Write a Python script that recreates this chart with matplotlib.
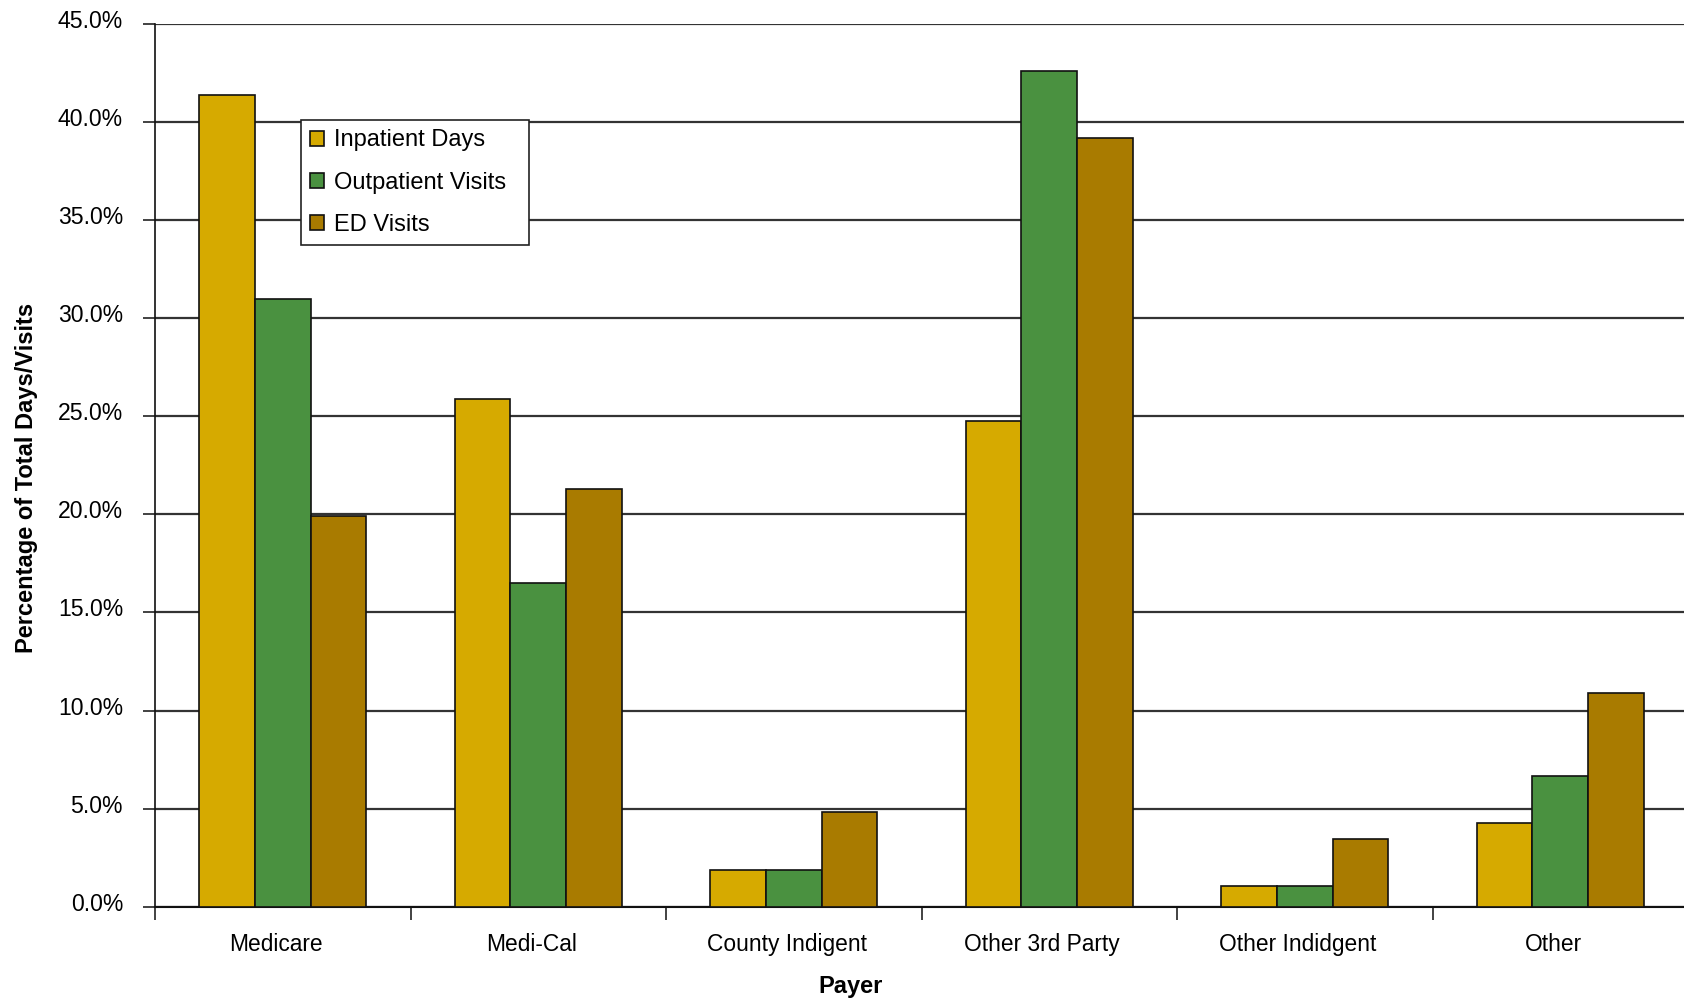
import matplotlib
matplotlib.use("Agg")
import matplotlib.pyplot as plt
import matplotlib.transforms as mtransforms
from matplotlib.patches import Rectangle
import numpy as np
from matplotlib.ticker import FuncFormatter, FixedLocator

plt.rcParams['font.family'] = ['Liberation Sans', 'DejaVu Sans']

categories = ["Medicare", "Medi-Cal", "County Indigent", "Other 3rd Party", "Other Indidgent", "Other"]
series_names = ["Inpatient Days", "Outpatient Visits", "ED Visits"]
inpatient = [41.4, 25.9, 1.85, 24.75, 1.04, 4.25]
outpatient = [31.0, 16.5, 1.85, 42.6, 1.04, 6.65]
ed_visits = [19.9, 21.3, 4.84, 39.2, 3.43, 10.9]
y_ticks = [0, 5, 10, 15, 20, 25, 30, 35, 40, 45]

colors = ["#D6AA00", "#4A9140", "#A97B00"]

fig = plt.figure(figsize=(16.84, 9.99), dpi=100)
ax = fig.add_axes([155/1684, 1-906.7/999, (1688-155)/1684, (906.7-24)/999])

x = np.arange(len(categories))
w = 0.218
for i, (vals, name) in enumerate(zip([inpatient, outpatient, ed_visits], series_names)):
    ax.bar(x + (i-1)*w, vals, width=w, color=colors[i], edgecolor="#111111",
           linewidth=1.2, label=name, zorder=3)

ax.set_xlim(-0.5, 5.5)
ax.set_ylim(0, 45)
ax.yaxis.set_major_locator(FixedLocator(y_ticks))
ax.yaxis.set_major_formatter(FuncFormatter(lambda v, p: f"{v:.1f}%"))
ax.grid(axis='y', color="#333333", linewidth=1.6, zorder=1)
ax.set_axisbelow(True)

ax.set_xticks(np.arange(-0.5, 6.0, 1.0))
ax.set_xticklabels([])
ax.set_xticks(x, minor=True)
ax.set_xticklabels(categories, minor=True, fontsize=16.4)
ax.tick_params(axis='x', which='major', length=9, width=1.2, color='#222222', direction='out')
ax.tick_params(axis='x', which='minor', length=0, pad=19)
ax.tick_params(axis='y', length=9, width=1.2, color='#222222', pad=14, labelsize=16.6)

# small offsets to mimic reference label placement
xoff = mtransforms.ScaledTranslation(-7/100, 0, fig.dpi_scale_trans)
for lab in ax.get_xticklabels(minor=True):
    lab.set_transform(lab.get_transform() + xoff)
yoff = mtransforms.ScaledTranslation(0, 5/100, fig.dpi_scale_trans)
for lab in ax.get_yticklabels():
    lab.set_transform(lab.get_transform() + yoff)

for s in ['top', 'right']:
    ax.spines[s].set_visible(False)
ax.spines['left'].set_color('#111111')
ax.spines['left'].set_linewidth(1.2)
ax.spines['bottom'].set_color('#111111')
ax.spines['bottom'].set_linewidth(1.5)

fig.text(27/1684, 1-478/999, "Percentage of Total Days/Visits", rotation=90,
         ha='center', va='center', fontsize=17, fontweight='bold')
fig.text(851/1684, 1-986/999, "Payer", ha='center', va='center',
         fontsize=17, fontweight='bold')

leg = ax.legend(loc='upper left', bbox_to_anchor=((300.7-155)/1533, (906.7-120)/882.7),
                fontsize=17, frameon=False, handlelength=0.6,
                handleheight=0.6, handletextpad=0.4, labelspacing=0.85,
                borderpad=0.4, borderaxespad=0)
leg.set_zorder(5)

# legend frame drawn as a rectangle with the reference's wider right padding
fig.canvas.draw()
bb = leg.get_window_extent()
frame = Rectangle((bb.x0, bb.y0), bb.width + 14, bb.height, transform=None,
                  facecolor='white', edgecolor='#222222', linewidth=1.2, zorder=4.9)
fig.patches.append(frame)
frame.set_figure(fig)
leg.remove()
fig.legends.append(leg)
leg.set_zorder(6)

fig.savefig("out.png", dpi=100)
